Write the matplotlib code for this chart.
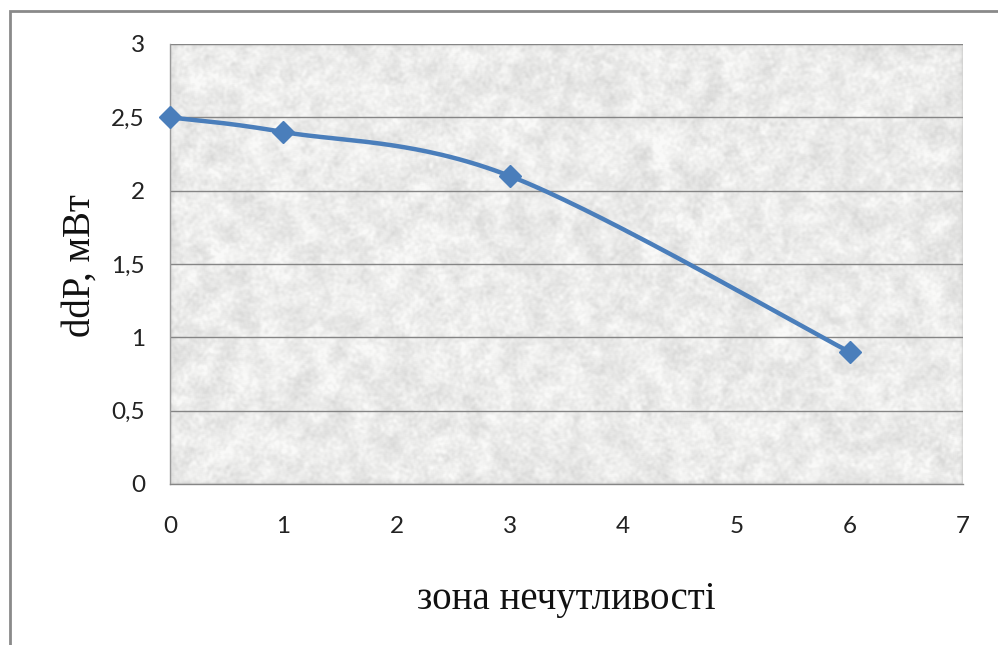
import numpy as np
import matplotlib
matplotlib.use("Agg")
import matplotlib.pyplot as plt
from matplotlib.patches import Rectangle

# Measured data
zone = [0, 1, 3, 6]
ddp = [2.5, 2.4, 2.1, 0.9]
x_ticks = [0, 1, 2, 3, 4, 5, 6, 7]
y_ticks = [0, 0.5, 1, 1.5, 2, 2.5, 3]
y_tick_labels = ["0", "0,5", "1", "1,5", "2", "2,5", "3"]
x_label = "зона нечутливості"
y_label = "ddP, мВт"


def smooth_curve(xs, ys, n=60):
    """Catmull-Rom style smoothing through the given points."""
    xs = np.asarray(xs, float)
    ys = np.asarray(ys, float)
    px = np.concatenate([[xs[0]], xs, [xs[-1]]])
    py = np.concatenate([[ys[0]], ys, [ys[-1]]])
    out_x, out_y = [], []
    for i in range(1, len(px) - 2):
        p0 = np.array([px[i - 1], py[i - 1]])
        p1 = np.array([px[i], py[i]])
        p2 = np.array([px[i + 1], py[i + 1]])
        p3 = np.array([px[i + 2], py[i + 2]])
        c1 = p1 + (p2 - p0) / 6.0
        c2 = p2 - (p3 - p1) / 6.0
        t = np.linspace(0, 1, n)[:, None]
        b = ((1 - t) ** 3) * p1 + 3 * ((1 - t) ** 2) * t * c1 + 3 * (1 - t) * t ** 2 * c2 + t ** 3 * p2
        out_x.extend(b[:, 0])
        out_y.extend(b[:, 1])
    return np.array(out_x), np.array(out_y)


fig = plt.figure(figsize=(9.98, 6.45), dpi=100)
fig.patch.set_facecolor("white")

W, H = 998, 645
left, right, top, bottom = 170, 963, 44, 484
ax = fig.add_axes([left / W, 1 - bottom / H, (right - left) / W, (bottom - top) / H])

# Granite-like fill texture for the plot area
rng = np.random.default_rng(7)
tex = rng.random((440, 790))
k = np.ones(3) / 3.0
for _ in range(2):
    tex = np.apply_along_axis(lambda r: np.convolve(r, k, mode="same"), 1, tex)
    tex = np.apply_along_axis(lambda c: np.convolve(c, k, mode="same"), 0, tex)
coarse = rng.random((44, 79))
coarse = np.kron(coarse, np.ones((10, 10)))
for _ in range(3):
    coarse = np.apply_along_axis(lambda r: np.convolve(r, np.ones(9) / 9, mode="same"), 1, coarse)
    coarse = np.apply_along_axis(lambda c: np.convolve(c, np.ones(9) / 9, mode="same"), 0, coarse)
tex = 0.65 * tex + 0.35 * coarse
tex = (tex - tex.min()) / (tex.max() - tex.min())
tex = np.clip((tex - 0.5) * 1.4 + 0.5, 0, 1)
tex = 0.83 + 0.15 * tex
rgb = np.dstack([tex, tex, tex * 0.995])
ax.imshow(rgb, extent=[0, 7, 0, 3], aspect="auto", interpolation="bilinear", zorder=0)

ax.set_xlim(0, 7)
ax.set_ylim(0, 3)

for yv in y_ticks[1:]:
    ax.axhline(yv, color="#858585", lw=1.0, zorder=1)

for side in ["top", "right"]:
    ax.spines[side].set_visible(False)
ax.spines["left"].set_color("#999999")
ax.spines["left"].set_linewidth(1.0)
ax.spines["bottom"].set_color("#858585")
ax.spines["bottom"].set_linewidth(1.0)

cx, cy = smooth_curve(zone, ddp)
ax.plot(cx, cy, color="#4A7EBB", lw=3.2, zorder=3, solid_capstyle="round", clip_on=False)
ax.plot(zone, ddp, linestyle="none", marker="D", markersize=11, color="#4A7EBB",
        markeredgecolor="#4A7EBB", zorder=4, clip_on=False)

tick_font = {"family": "Lato", "size": 17.5, "color": "#222222"}
ax.set_xticks(x_ticks)
ax.set_xticklabels([str(v) for v in x_ticks], fontdict=tick_font)
ax.set_yticks(y_ticks)
ax.set_yticklabels(y_tick_labels, fontdict=tick_font)
ax.tick_params(axis="x", length=0, pad=23)
ax.tick_params(axis="y", length=0, pad=18)

fig.text((left + right) / 2 / W, 1 - 600 / H, x_label, ha="center", va="center",
         family="Liberation Serif", fontsize=28, color="#111111")
fig.text(80 / W, 1 - 266 / H, y_label, ha="center", va="center", rotation=90,
         family="Liberation Serif", fontsize=28, color="#111111")

# Chart frame
fig.patches.append(Rectangle((10 / W, -0.01), 1.0, 1 - 11 / H + 0.01, transform=fig.transFigure,
                             fill=False, edgecolor="#8a8a8a", lw=2.0))

fig.savefig("out.png", dpi=100)
